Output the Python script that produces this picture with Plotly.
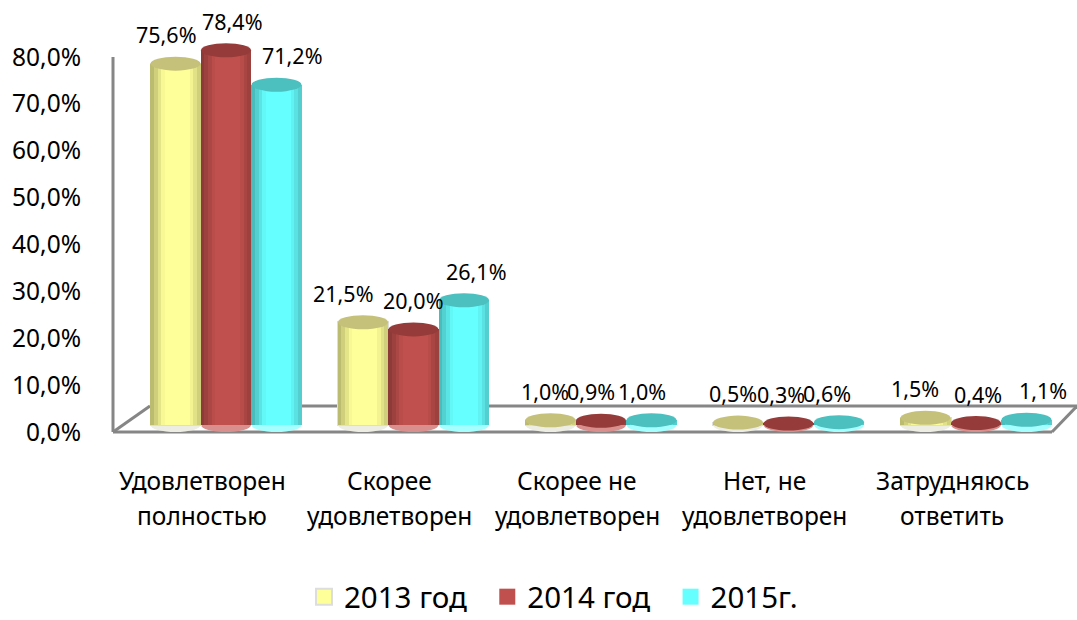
import plotly.graph_objects as go

categories = [
    ["Удовлетворен", "полностью"],
    ["Скорее", "удовлетворен"],
    ["Скорее не", "удовлетворен"],
    ["Нет, не", "удовлетворен"],
    ["Затрудняюсь", "ответить"],
]
series_names = ["2013 год", "2014 год", "2015г."]
values_2013 = [75.6, 21.5, 1.0, 0.5, 1.5]
values_2014 = [78.4, 20.0, 0.9, 0.3, 0.4]
values_2015 = [71.2, 26.1, 1.0, 0.6, 1.1]
y_ticks = [0, 10, 20, 30, 40, 50, 60, 70, 80]
y_tick_text = ["0,0%", "10,0%", "20,0%", "30,0%", "40,0%", "50,0%", "60,0%", "70,0%", "80,0%"]

# label nudges in px, tuned per label
label_dx = [
    [-9, -20, -6, -5, -11],
    [6, 0, -10, -8, 2],
    [16, 12, -10, -12, 16],
]
FONT = "Noto Sans"
series_vals = [values_2013, values_2014, values_2015]
body = [(255, 255, 153), (192, 80, 77), (102, 255, 255)]
top_col = ["#C6C17A", "#953B39", "#4CBFBF"]
bot_col = ["#EDEDE3", "#D98F8D", "#A6FFFF"]

W, H = 1077, 620
L, T, BOT = 113, 20, 432
step_px = 187.5
px_per_y = 375 / 80
px_per_y2 = 4.78
bar_px = 50 / step_px
off = 50.5 / step_px
x0 = (L - 226) / step_px
x1 = (W - 226) / step_px
y_top = (BOT - T) / px_per_y
y2_low = -(BOT - 425) / px_per_y2
y2_top = (425 - T) / px_per_y2


def shade(rgb, t):
    if t < -0.45:
        f = 0.70 + 0.30 * (t + 1) / 0.55
    elif t > 0.55:
        f = 1 - 0.22 * (t - 0.55) / 0.45
    else:
        f = 1
    return "rgb(%d,%d,%d)" % tuple(int(c * f) for c in rgb)


fig = go.Figure()
shapes = []
annotations = []
N = 14

# floor and wall lines
grey = "#868686"
for (a, b, c, d, w) in [
    (L, 432, W - 25, 432, 3), (L, 432, 150, 406, 3),
    (150, 406, W, 406, 3), (W - 25, 432, W, 406, 3), (L, 57, L, 432, 3),
]:
    shapes.append(dict(type="line", xref="paper", yref="paper",
                       x0=(a - L) / (W - L), x1=(c - L) / (W - L),
                       y0=(BOT - b) / (BOT - T), y1=(BOT - d) / (BOT - T),
                       line=dict(color=grey, width=w), layer="below"))

for s, vals in enumerate(series_vals):
    xs = [i + (s - 1) * off for i in range(len(vals))]
    fig.add_trace(go.Bar(
        x=xs, y=vals, yaxis="y2", width=bar_px, showlegend=False,
        marker=dict(color="rgb(%d,%d,%d)" % body[s],
                    line=dict(color="#DDDDDD" if s == 0 else "rgba(0,0,0,0)", width=2 if s == 0 else 0)),
    ))
    sx, sy, sc = [], [], []
    for xc, v in zip(xs, vals):
        for k in range(N):
            t = -1 + (2 * k + 1) / N
            sx.append(xc + t * bar_px / 2)
            sy.append(v)
            sc.append(shade(body[s], t))
    fig.add_trace(go.Bar(x=sx, y=sy, yaxis="y2", width=bar_px / N * 1.05,
                         showlegend=False, marker=dict(color=sc, line=dict(width=0))))
    fig.add_trace(go.Scatter(
        x=[None], y=[None], mode="markers",
        name=series_names[s] + ("\u00a0\u00a0" if s < 2 else ""),
        marker=dict(symbol="square", size=18, color="rgb(%d,%d,%d)" % body[s],
                    line=dict(color="#DDDDDD" if s == 0 else "rgba(0,0,0,0)", width=2 if s == 0 else 0)),
    ))
    rx = bar_px / 2
    ry = 7 / px_per_y2
    for i, (xc, v) in enumerate(zip(xs, vals)):
        shapes.append(dict(type="circle", xref="x", yref="y2", layer="below",
                           x0=xc - rx, x1=xc + rx, y0=-ry, y1=ry,
                           fillcolor=bot_col[s], line=dict(width=0)))
        shapes.append(dict(type="circle", xref="x", yref="y2", layer="above",
                           x0=xc - rx, x1=xc + rx, y0=v - ry, y1=v + ry,
                           fillcolor=top_col[s], line=dict(width=0)))
        annotations.append(dict(x=xc, y=v, xref="x", yref="y2", showarrow=False,
                                text=f"{v:.1f}%".replace(".", ","),
                                xshift=label_dx[s][i], yshift=29,
                                xanchor="center", yanchor="middle",
                                font=dict(family=FONT, size=21.5, color="black")))

for i, lines in enumerate(categories):
    for j, line in enumerate(lines):
        annotations.append(dict(x=i, y=0, xref="x", yref="paper", showarrow=False,
                                text=line, xshift=-24, yshift=-48 - 35 * j,
                                xanchor="center", yanchor="middle",
                                font=dict(family=FONT, size=24.5, color="black")))

fig.update_layout(
    width=W, height=H, autosize=False,
    margin=dict(l=L, r=0, t=T, b=H - BOT, pad=0, autoexpand=False),
    paper_bgcolor="white", plot_bgcolor="white",
    barmode="overlay", bargap=0,
    font=dict(family=FONT, color="black"),
    xaxis=dict(range=[x0, x1], showgrid=False, zeroline=False, showline=False,
               showticklabels=False, ticks=""),
    yaxis=dict(range=[0, y_top], tickmode="array", tickvals=y_ticks, ticktext=y_tick_text,
               showgrid=False, zeroline=False, showline=False, ticks="", ticklabelstandoff=31,
               tickfont=dict(family=FONT, size=24.5, color="black")),
    yaxis2=dict(range=[y2_low, y2_top], overlaying="y", visible=False),
    legend=dict(orientation="h", x=(W / 2 + 15 - L) / (W - L), xanchor="center",
                y=(BOT - 597) / (BOT - T), yanchor="middle",
                font=dict(family=FONT, size=29.5, color="black"), itemwidth=30, itemsizing="trace"),
    shapes=shapes, annotations=annotations,
)
fig.write_html("out.html", config=dict(displayModeBar=False),
               post_script="document.body.style.margin='0';document.body.style.overflow='hidden';")
